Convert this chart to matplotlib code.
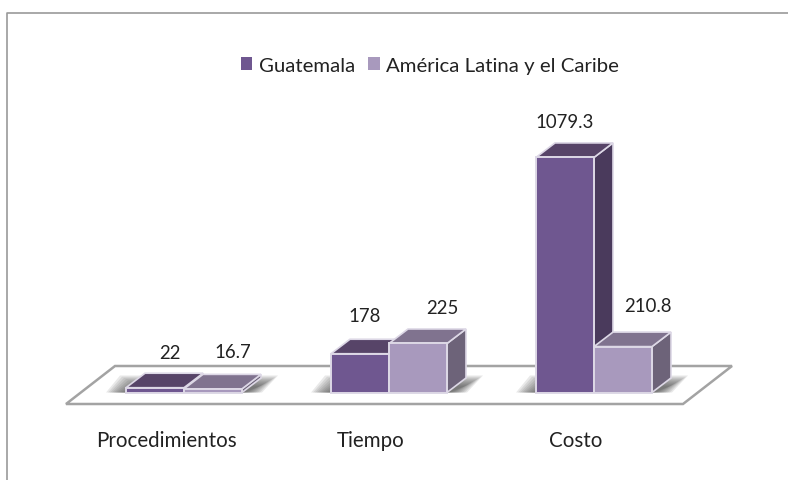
import numpy as np
import matplotlib
matplotlib.use('Agg')
import matplotlib.pyplot as plt
from matplotlib.patches import Polygon, Patch

# -------- DATA ----------------------------
categorias = ['Procedimientos', 'Tiempo', 'Costo']
series = ['Guatemala', 'América Latina y el Caribe']
guatemala = [22, 178, 1079.3]
america_latina = [16.7, 225, 210.8]
etiquetas_g = ['22', '178', '1079.3']
etiquetas_a = ['16.7', '225', '210.8']

# -------- STYLE ----------------------------
W, H = 788, 481
PX_X = 205.0      # pixels per category
PX_Y = 0.2178     # pixels per value unit
X0_PX = 184.0     # pixel of first category
Y0_PX = 393.5     # pixel of value zero
ancho = 58 / PX_X
dx = 19 / PX_X    # 3d depth
dy = 14.5 / PX_Y
col_g = ('#6f5790', '#574468', '#4a3a5c')
col_a = ('#a899bd', '#80738f', '#6d6379')
borde = '#ddd8e6'

plt.rcParams['font.family'] = ['Lato', 'DejaVu Sans']

fig = plt.figure(figsize=(W / 100, H / 100), dpi=100)
ax = fig.add_axes([0, 0, 1, 1])
ax.set_xlim(-X0_PX / PX_X, (W - X0_PX) / PX_X)
ax.set_ylim((Y0_PX - H) / PX_Y, Y0_PX / PX_Y)
ax.axis('off')


def px(x, y):
    # pixel position in the picture to data units
    return (x - X0_PX) / PX_X, (Y0_PX - y) / PX_Y


# frame of the picture
ax.plot(*zip(px(7, 481), px(7, 13.5), px(788, 13.5)), color='#9a9a9a', lw=1.2, zorder=1)

# floor
piso = Polygon([px(66, 405), px(115, 367), px(732, 367), px(683, 405)],
               closed=True, facecolor='white', edgecolor='#a3a3a3', lw=1.8, zorder=2)
ax.add_patch(piso)


def sombra(i):
    # soft shadow around the base of a group
    izq = i - ancho - 20 / PX_X
    der = i + ancho + 28 / PX_X
    for k in range(10):
        enc = k * 2.0 / PX_X
        alto = (17 - k * 1.2) / PX_Y
        ax.add_patch(Polygon([(izq + enc, 0), (izq + enc + 14 / PX_X, alto),
                              (der - enc + 8 / PX_X, alto), (der - enc - 8 / PX_X, 0)],
                             closed=True, facecolor='#4a4a4a', edgecolor='none',
                             alpha=0.12, zorder=3))


def barra(x, v, colores, z):
    frente, tapa, lado = colores
    ax.add_patch(Polygon([(x + ancho, 0), (x + ancho + dx, dy), (x + ancho + dx, v + dy), (x + ancho, v)],
                         closed=True, facecolor=lado, edgecolor=borde, lw=1.2, zorder=z))
    ax.add_patch(Polygon([(x, v), (x + dx, v + dy), (x + ancho + dx, v + dy), (x + ancho, v)],
                         closed=True, facecolor=tapa, edgecolor=borde, lw=1.2, zorder=z))
    ax.add_patch(Polygon([(x, 0), (x, v), (x + ancho, v), (x + ancho, 0)],
                         closed=True, facecolor=frente, edgecolor=borde, lw=1.4, zorder=z + 0.5))


# manual label shifts of the original, in pixels
off_g = [(15, 35), (5, 38), (0, 36)]
off_a = [(20, 37), (24, 36), (25, 41)]

for i in range(len(categorias)):
    sombra(i)
    barra(i - ancho, guatemala[i], col_g, 4)
    barra(i, america_latina[i], col_a, 5)
    ax.annotate(etiquetas_g[i], (i - ancho / 2, guatemala[i]), xytext=off_g[i], textcoords='offset pixels',
                ha='center', va='center', fontsize=13.4, color='#222222', zorder=8)
    ax.annotate(etiquetas_a[i], (i + ancho / 2, america_latina[i]), xytext=off_a[i], textcoords='offset pixels',
                ha='center', va='center', fontsize=13.4, color='#222222', zorder=8)
    ax.annotate(categorias[i], (i, 0), xytext=(-18, -48), textcoords='offset pixels',
                ha='center', va='center', fontsize=14.8, color='#222222', zorder=8)

handles = [Patch(facecolor=col_g[0], label=series[0]), Patch(facecolor=col_a[0], label=series[1])]
ax.legend(handles=handles, loc='center', bbox_to_anchor=(430 / W, 1 - 66.5 / H), ncol=2, frameon=False,
          fontsize=14.7, handlelength=0.55, handleheight=0.6, handletextpad=0.32, columnspacing=0.65,
          labelcolor='#222222', borderpad=0)

plt.savefig('out.png', dpi=100)
